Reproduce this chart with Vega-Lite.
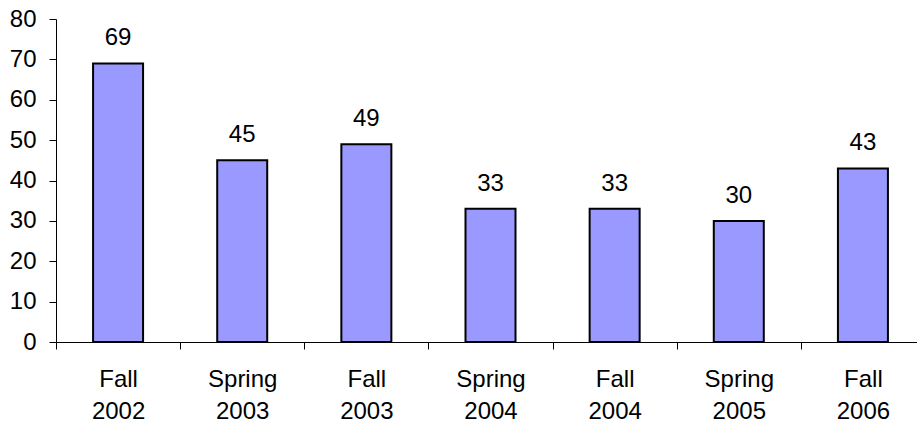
{
  "$schema": "https://vega.github.io/schema/vega-lite/v6.json",
  "width": 869,
  "height": 323,
  "autosize": {"type": "none"},
  "padding": {"left": 56, "top": 19, "right": 0, "bottom": 83},
  "background": "white",
  "config": {"view": {"stroke": null}, "font": "Liberation Sans"},
  "data": {"values": [
    {"term": "Fall 2002", "value": 69},
    {"term": "Spring 2003", "value": 45},
    {"term": "Fall 2003", "value": 49},
    {"term": "Spring 2004", "value": 33},
    {"term": "Fall 2004", "value": 33},
    {"term": "Spring 2005", "value": 30},
    {"term": "Fall 2006", "value": 43}
  ]},
  "encoding": {
    "x": {"field": "term", "type": "nominal", "sort": null,
      "scale": {"paddingInner": 0, "paddingOuter": 0},
      "axis": {"title": null, "labelAngle": 0, "tickBand": "extent",
        "labelExpr": "split(datum.label, ' ')",
        "labelFont": "Liberation Sans", "labelFontSize": 24, "labelColor": "black",
        "labelLineHeight": 32, "labelPadding": 18, "tickSize": 7, "tickColor": "black",
        "domainColor": "black", "domainWidth": 1, "tickWidth": 1}},
    "y": {"field": "value", "type": "quantitative",
      "scale": {"domain": [0, 80], "nice": false},
      "axis": {"title": null, "values": [0,10,20,30,40,50,60,70,80], "grid": false,
        "labelFont": "Liberation Sans", "labelFontSize": 24, "labelColor": "black",
        "labelPadding": 13, "tickSize": 7, "tickColor": "black",
        "domainColor": "black", "tickWidth": 1}}
  },
  "layer": [
    {"mark": {"type": "bar", "size": 50, "fill": "#9999FF", "stroke": "black", "strokeWidth": 2}},
    {"mark": {"type": "text", "baseline": "alphabetic", "dy": -18, "fontSize": 24, "font": "Liberation Sans", "color": "black"},
     "encoding": {"text": {"field": "value", "type": "quantitative"}}}
  ]
}
